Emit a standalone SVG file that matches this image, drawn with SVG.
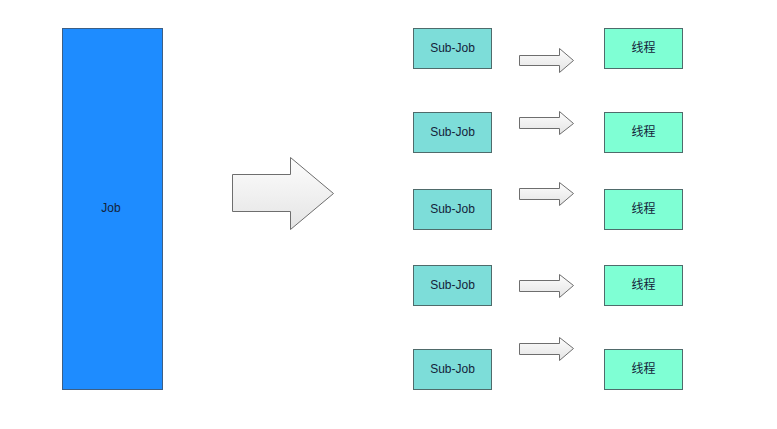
<svg xmlns="http://www.w3.org/2000/svg" width="777" height="429" viewBox="0 0 777 429">
<defs>
<linearGradient id="ag" x1="0" y1="0" x2="0" y2="1">
<stop offset="0" stop-color="#fdfdfd"/>
<stop offset="1" stop-color="#e4e4e4"/>
</linearGradient>
</defs>
<style>
.job{fill:#1E8CFF;stroke:#3D5F85;stroke-width:1}
.sub{fill:#7DDDD9;stroke:#4F6B6B;stroke-width:1}
.thr{fill:#7FFFD4;stroke:#4F6B6B;stroke-width:1}
.arr{fill:url(#ag);stroke:#6E6E6E;stroke-width:1}
text{font-family:"Liberation Sans","Noto Sans CJK SC",sans-serif;font-size:12px;fill:#14233A;text-anchor:middle;dominant-baseline:central}
</style>
<rect width="777" height="429" fill="#ffffff"/>
<g id="job"><rect class="job" x="62.5" y="28.5" width="100" height="361"/><text x="111" y="208">Job</text></g>
<g id="sub1"><rect class="sub" x="413.5" y="28.5" width="78" height="40"/><text x="452.5" y="47.5">Sub-Job</text></g>
<g id="sub2"><rect class="sub" x="413.5" y="112.5" width="78" height="40"/><text x="452.5" y="131.5">Sub-Job</text></g>
<g id="sub3"><rect class="sub" x="413.5" y="189.5" width="78" height="40"/><text x="452.5" y="208.5">Sub-Job</text></g>
<g id="sub4"><rect class="sub" x="413.5" y="265.5" width="78" height="40"/><text x="452.5" y="284.5">Sub-Job</text></g>
<g id="sub5"><rect class="sub" x="413.5" y="349.5" width="78" height="40"/><text x="452.5" y="368.5">Sub-Job</text></g>
<g id="thr1"><rect class="thr" x="604.5" y="28.5" width="78" height="40"/><text x="643.5" y="47.5">线程</text></g>
<g id="thr2"><rect class="thr" x="604.5" y="112.5" width="78" height="40"/><text x="643.5" y="131.5">线程</text></g>
<g id="thr3"><rect class="thr" x="604.5" y="189.5" width="78" height="40"/><text x="643.5" y="208.5">线程</text></g>
<g id="thr4"><rect class="thr" x="604.5" y="265.5" width="78" height="40"/><text x="643.5" y="284.5">线程</text></g>
<g id="thr5"><rect class="thr" x="604.5" y="349.5" width="78" height="40"/><text x="643.5" y="368.5">线程</text></g>
<g id="connectors">
<polygon class="arr" points="232.5,174.5 290.5,174.5 290.5,157.5 333.5,193.5 290.5,229.5 290.5,211.5 232.5,211.5"/>
<polygon class="arr" points="519.5,55.5 559.5,55.5 559.5,48.5 573.5,60.5 559.5,72.5 559.5,65.5 519.5,65.5"/>
<polygon class="arr" points="519.5,117.5 559.5,117.5 559.5,111.5 573.5,123.5 559.5,134.5 559.5,128.5 519.5,128.5"/>
<polygon class="arr" points="519.5,188.5 559.5,188.5 559.5,182.5 573.5,193.5 559.5,205.5 559.5,199.5 519.5,199.5"/>
<polygon class="arr" points="519.5,280.5 559.5,280.5 559.5,274.5 573.5,285.5 559.5,297.5 559.5,291.5 519.5,291.5"/>
<polygon class="arr" points="519.5,343.5 559.5,343.5 559.5,337.5 573.5,348.5 559.5,360.5 559.5,354.5 519.5,354.5"/>
</g>
</svg>
